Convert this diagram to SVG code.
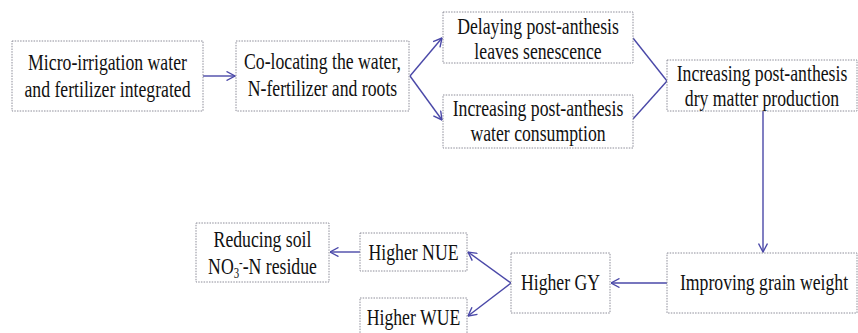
<svg xmlns="http://www.w3.org/2000/svg" width="858" height="333" viewBox="0 0 858 333">
<defs>
<style>
.box{fill:#ffffff;stroke:#8c8c98;stroke-width:1;stroke-dasharray:1.5 1.2}
.c{fill:none;stroke:#4a48a8;stroke-width:1.4}
</style>
<marker id="ah" viewBox="0 0 10 10" refX="9.5" refY="5" markerWidth="10" markerHeight="10" markerUnits="userSpaceOnUse" orient="auto">
<path d="M1,0.5 L9.5,5 L1,9.5" fill="none" stroke="#4a48a8" stroke-width="1.4"/>
</marker>
</defs>
<rect width="858" height="333" fill="#ffffff"/>
<g id="connectors">
<line class="c" x1="203" y1="76" x2="235" y2="76" marker-end="url(#ah)"/>
<line class="c" x1="410" y1="76" x2="442" y2="38" marker-end="url(#ah)"/>
<line class="c" x1="410" y1="76" x2="442" y2="120" marker-end="url(#ah)"/>
<line class="c" x1="633" y1="38" x2="667" y2="81"/>
<line class="c" x1="633" y1="119" x2="667" y2="81"/>
<line class="c" x1="763" y1="111" x2="763" y2="252" marker-end="url(#ah)"/>
<line class="c" x1="667" y1="283" x2="611" y2="283" marker-end="url(#ah)"/>
<line class="c" x1="511" y1="283" x2="468" y2="252" marker-end="url(#ah)"/>
<line class="c" x1="511" y1="283" x2="468" y2="316" marker-end="url(#ah)"/>
<line class="c" x1="360" y1="252" x2="330" y2="252" marker-end="url(#ah)"/>
</g>
<g font-family="Liberation Serif, Times New Roman, serif" font-size="23" fill="#111111" text-anchor="middle">
<g id="n1">
<rect class="box" x="12" y="41" width="191" height="70"/>
<text transform="translate(107.5,70) scale(0.77,1)">Micro-irrigation water</text>
<text transform="translate(107.5,97) scale(0.77,1)">and fertilizer integrated</text>
</g>
<g id="n2">
<rect class="box" x="236" y="41" width="173" height="70"/>
<text transform="translate(322.5,69) scale(0.77,1)">Co-locating the water,</text>
<text transform="translate(322.5,96) scale(0.77,1)">N-fertilizer and roots</text>
</g>
<g id="n3">
<rect class="box" x="443" y="12" width="190" height="51"/>
<text transform="translate(538,34) scale(0.77,1)">Delaying post-anthesis</text>
<text transform="translate(538,59) scale(0.77,1)">leaves senescence</text>
</g>
<g id="n4">
<rect class="box" x="443" y="95" width="190" height="53"/>
<text transform="translate(538,116) scale(0.77,1)">Increasing post-anthesis</text>
<text transform="translate(538,141) scale(0.77,1)">water consumption</text>
</g>
<g id="n5">
<rect class="box" x="667" y="60" width="190" height="51"/>
<text transform="translate(762,81) scale(0.77,1)">Increasing post-anthesis</text>
<text transform="translate(762,106) scale(0.77,1)">dry matter production</text>
</g>
<g id="n6">
<rect class="box" x="667" y="253" width="190" height="60"/>
<text transform="translate(764,290) scale(0.77,1)">Improving grain weight</text>
</g>
<g id="n7">
<rect class="box" x="511" y="253" width="99" height="60"/>
<text transform="translate(560.5,290) scale(0.77,1)">Higher GY</text>
</g>
<g id="n8">
<rect class="box" x="360" y="233" width="107" height="38"/>
<text transform="translate(413.5,260) scale(0.77,1)">Higher NUE</text>
</g>
<g id="n9">
<rect class="box" x="360" y="298" width="107" height="40"/>
<text transform="translate(413.5,325) scale(0.77,1)">Higher WUE</text>
</g>
<g id="n10">
<rect class="box" x="196" y="223" width="133" height="59"/>
<text transform="translate(262.5,247) scale(0.77,1)">Reducing soil</text>
<text transform="translate(262.5,274) scale(0.77,1)">NO<tspan font-size="14" dy="4">3</tspan><tspan font-size="14" dy="-11">-</tspan><tspan dy="7">-N residue</tspan></text>
</g>
</g>
</svg>
